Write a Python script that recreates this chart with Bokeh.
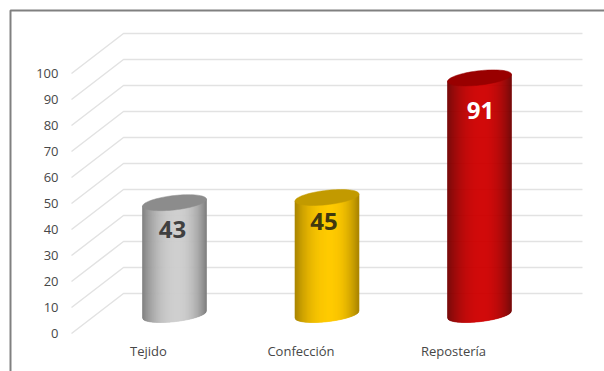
import numpy as np
from bokeh.core.properties import value
from bokeh.embed import file_html
from bokeh.models import BoxAnnotation, ColumnDataSource, FixedTicker, LinearAxis, Range1d
from bokeh.plotting import figure
from bokeh.resources import INLINE

categories = ["Tejido", "Confección", "Repostería"]
values = [43, 45, 91]
y_ticks = [0, 10, 20, 30, 40, 50, 60, 70, 80, 90, 100]

edge_colors = ["#7a7a7a", "#a88400", "#700000"]
center_colors = ["#cdcdcd", "#ffca00", "#cf0000"]
cap_colors = ["#8c8c8c", "#c29a00", "#990000"]
label_colors = ["#404040", "#40380f", "#ffffff"]
label_dx = [-2, -3, 1]
label_dy = [-27, -24, -33]

WIDTH, HEIGHT = 604, 371
AXIS_X_PX, AXIS_Y_PX = 62, 337
PX_PER_CAT = 152.5
PX_PER_UNIT = 2.6
FIRST_BAR_PX = 174
FLOOR_PX = 314          # bar bases sit mid-way through the depth of the floor
FRONT_FLOOR_PX = 333
BACK_FLOOR_PX = 293
FIRST_LABEL_PX = 148


def cat_range(first_px):
    return Range1d(-first_px / PX_PER_CAT, (WIDTH - first_px) / PX_PER_CAT)


def val_range(floor_px):
    return Range1d((floor_px - HEIGHT) / PX_PER_UNIT, floor_px / PX_PER_UNIT)


p = figure(
    width=WIDTH, height=HEIGHT, output_backend="svg", toolbar_location=None,
    x_range=cat_range(FIRST_BAR_PX), y_range=val_range(FLOOR_PX),
    x_axis_type=None, y_axis_type=None, background_fill_color="white",
    min_border=0,
)
p.grid.visible = False
p.outline_line_color = None
p.extra_y_ranges = {"front": val_range(FRONT_FLOOR_PX)}
p.extra_x_ranges = {"front": cat_range(FIRST_LABEL_PX)}

# Value and category axes sit on the front edge of the 3D floor, inside the chart frame
y_axis = LinearAxis(
    y_range_name="front", ticker=FixedTicker(ticks=y_ticks),
    fixed_location=(AXIS_X_PX - FIRST_BAR_PX) / PX_PER_CAT,
)
x_axis = LinearAxis(
    x_range_name="front", ticker=FixedTicker(ticks=list(range(len(categories)))),
    major_label_overrides={i: c for i, c in enumerate(categories)},
    fixed_location=(FLOOR_PX - AXIS_Y_PX) / PX_PER_UNIT,
)
for axis in (y_axis, x_axis):
    axis.axis_line_color = None
    axis.major_tick_line_color = None
    axis.minor_tick_line_color = None
    axis.major_tick_in = 0
    axis.major_tick_out = 0
    axis.major_label_standoff = 4
    axis.major_label_text_font = "Open Sans"
    axis.major_label_text_font_size = "13px"
    axis.major_label_text_color = "#474747"
p.add_layout(y_axis, "left")
p.add_layout(x_axis, "below")

# Chart frame: only the top and left edges fall inside the page
p.add_layout(BoxAnnotation(
    left=10, right=WIDTH + 20, top=10, bottom=HEIGHT + 20,
    left_units="canvas", right_units="canvas", top_units="canvas", bottom_units="canvas",
    fill_alpha=0, line_color="#808080", line_alpha=1, line_width=2,
))

# Gridlines: one bent line per tick, along the side wall and across the back wall
front_x = (71 - FIRST_BAR_PX) / PX_PER_CAT
back_x = (123 - FIRST_BAR_PX) / PX_PER_CAT
end_x = (582 - FIRST_BAR_PX) / PX_PER_CAT
front_shift = (FLOOR_PX - FRONT_FLOOR_PX) / PX_PER_UNIT
back_shift = (FLOOR_PX - BACK_FLOOR_PX) / PX_PER_UNIT
p.multi_line(
    xs=[[front_x, back_x, end_x] for _ in y_ticks],
    ys=[[t + front_shift, t + back_shift, t + back_shift] for t in y_ticks],
    line_color="#e2e2e2", line_width=1.5,
)

# Cylinders, shaded with thin vertical strips and closed by a tilted elliptical cap
HALF_W = 32 / PX_PER_CAT
TILT = 3.5 / PX_PER_UNIT
HALF_H = 7.2 / PX_PER_UNIT
STRIPS = 64


def hex_rgb(c):
    return np.array([int(c[i:i + 2], 16) for i in (1, 3, 5)], dtype=float)


def shade(edge, center, u):
    # u runs -1..1 across the bar; the highlight sits slightly right of centre
    d = np.abs(u - 0.1) / (1.1 if u < 0.1 else 0.9)
    mix = np.clip(1 - d ** 2.2, 0, 1)
    rgb = hex_rgb(edge) + (hex_rgb(center) - hex_rgb(edge)) * mix
    return "#%02x%02x%02x" % tuple(int(round(c)) for c in rgb)


for i, v in enumerate(values):
    us = np.linspace(-1, 1, STRIPS + 1)
    xs, ys, colors = [], [], []
    for a, b in zip(us[:-1], us[1:]):
        ya = TILT * a - HALF_H * np.sqrt(1 - a * a)
        yb = TILT * b - HALF_H * np.sqrt(1 - b * b)
        xs.append([i + HALF_W * a, i + HALF_W * b, i + HALF_W * b, i + HALF_W * a])
        ys.append([ya, yb, v + TILT * b, v + TILT * a])
        colors.append(shade(edge_colors[i], center_colors[i], (a + b) / 2))
    p.patches(xs, ys, fill_color=colors, line_color=colors, line_width=0.6)

    t = np.linspace(0, 2 * np.pi, 73)
    p.patch(
        i + HALF_W * np.cos(t),
        v + TILT * np.cos(t) + HALF_H * np.sin(t),
        fill_color=cap_colors[i], line_color=cap_colors[i], line_width=0.5,
    )

# Value labels printed on the bars
labels = ColumnDataSource(dict(
    x=list(range(len(values))), y=values, text=[str(v) for v in values],
    color=label_colors, dx=label_dx, dy=[-d for d in label_dy],
))
p.text(
    "x", "y", text="text", source=labels, text_color="color",
    x_offset="dx", y_offset="dy", text_align="center", text_baseline="middle",
    text_font=value("Open Sans"), text_font_style="bold", text_font_size="24px",
)

open("out.html", "w").write(file_html(p, INLINE))
